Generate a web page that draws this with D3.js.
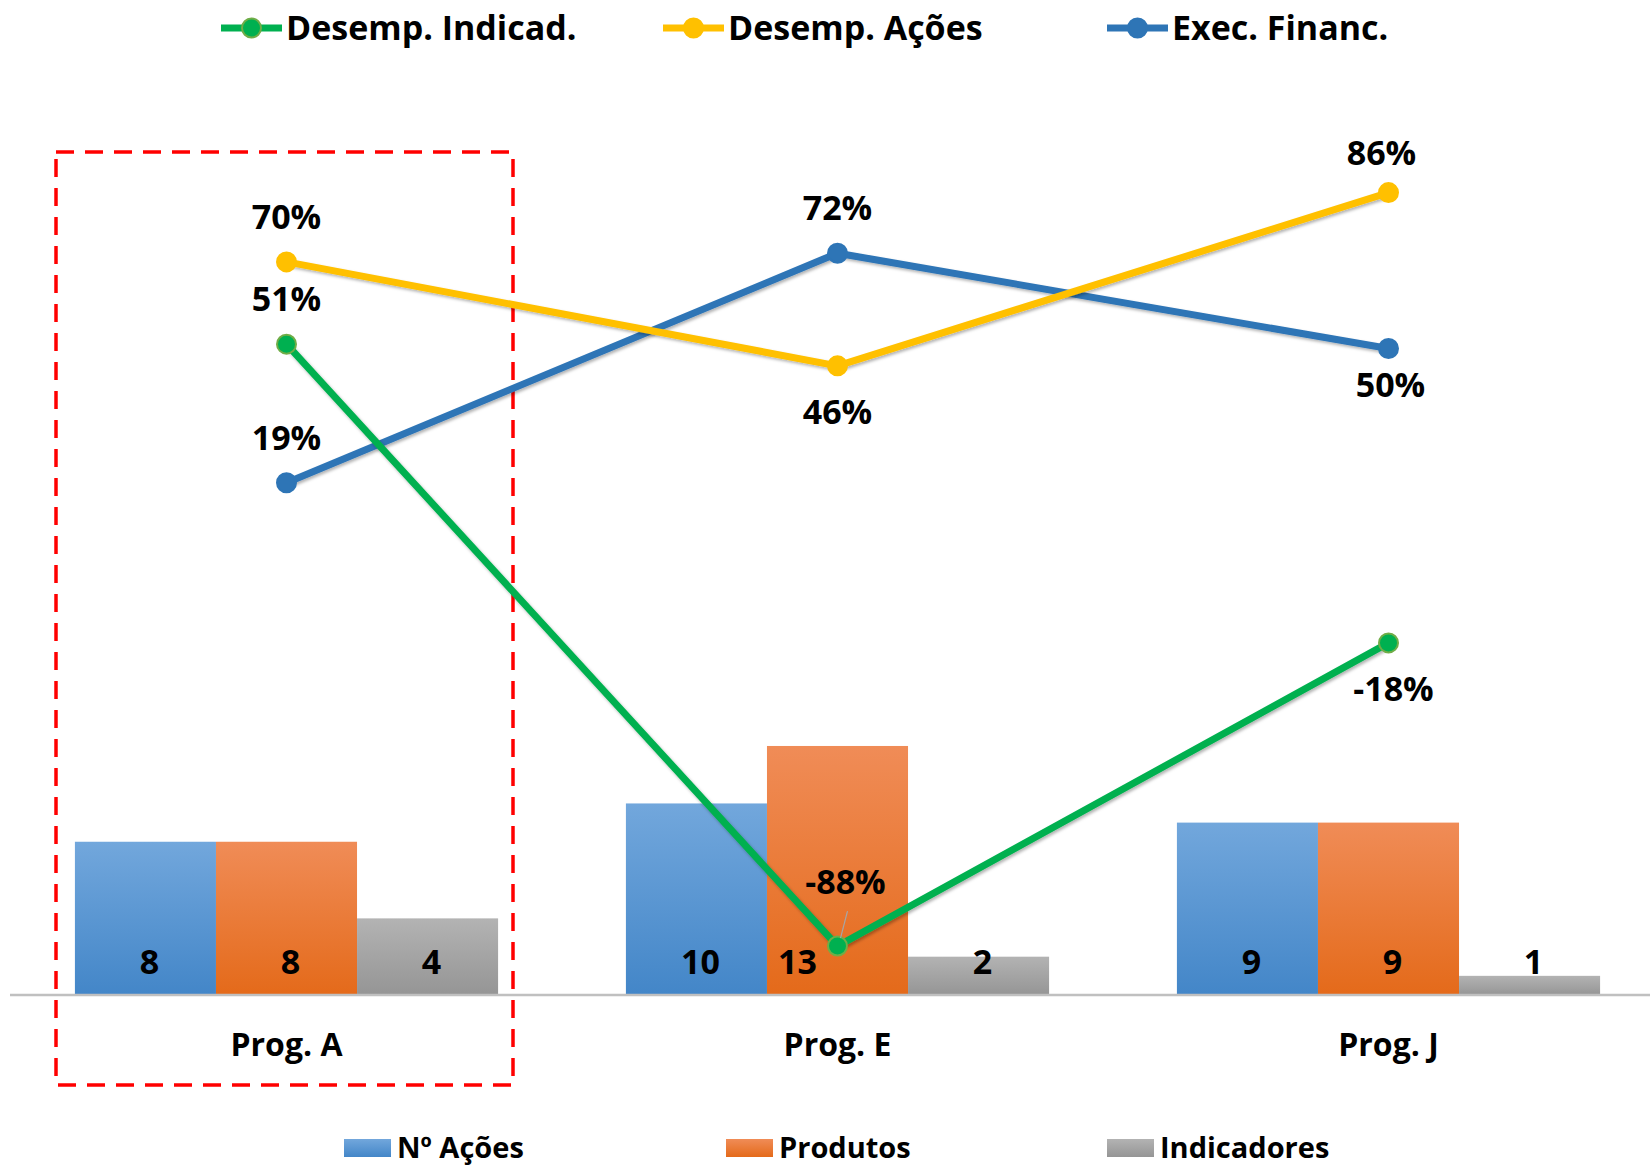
<!DOCTYPE html>
<html>
<head>
<meta charset="utf-8">
<script src="https://cdn.jsdelivr.net/npm/d3@7"></script>
<style>
  body { margin: 0; background: #fff; }
  svg { display: block; font-family: "Open Sans", sans-serif; font-weight: bold; }
</style>
</head>
<body>
<svg id="chart" width="1650" height="1167"></svg>
<script>
// data
var programas = ["Prog. A", "Prog. E", "Prog. J"];
var barKeys = ["Nº Ações", "Produtos", "Indicadores"];
var nAcoes = [8, 10, 9];
var produtos = [8, 13, 9];
var indicadores = [4, 2, 1];

var lineKeys = ["Desemp. Indicad.", "Desemp. Ações", "Exec. Financ."];
var desempIndicad = [0.51, -0.88, -0.18];
var desempAcoes = [0.70, 0.46, 0.86];
var execFinanc = [0.19, 0.72, 0.50];

// label placement (t = above point, b = below point)
var labelPlace = {
  "Desemp. Indicad.": ["t", "t", "b"],
  "Desemp. Ações": ["t", "b", "t"],
  "Exec. Financ.": ["t", "t", "b"]
};

var barColors = {
  "Nº Ações": ["#72a7dc", "#4386c8"],
  "Produtos": ["#f08c57", "#e46a1a"],
  "Indicadores": ["#b3b3b3", "#959595"]
};
var lineColors = {
  "Desemp. Indicad.": "#00b050",
  "Desemp. Ações": "#ffc000",
  "Exec. Financ.": "#2e75b6"
};

var barData = programas.map(function(p, i) {
  return { prog: p, values: [nAcoes[i], produtos[i], indicadores[i]] };
});
var lineData = [
  { key: "Desemp. Indicad.", values: desempIndicad },
  { key: "Desemp. Ações", values: desempAcoes },
  { key: "Exec. Financ.", values: execFinanc }
];

var svg = d3.select("#chart");
var defs = svg.append("defs");

barKeys.forEach(function(k, i) {
  var g = defs.append("linearGradient")
      .attr("id", "grad" + i)
      .attr("x1", 0).attr("y1", 0).attr("x2", 0).attr("y2", 1);
  g.append("stop").attr("offset", "0%").attr("stop-color", barColors[k][0]);
  g.append("stop").attr("offset", "100%").attr("stop-color", barColors[k][1]);
});

var shadow = defs.append("filter").attr("id", "shadow")
    .attr("x", "-10%").attr("y", "-10%").attr("width", "120%").attr("height", "120%");
shadow.append("feDropShadow")
    .attr("dx", 1.5).attr("dy", 2).attr("stdDeviation", 1.5)
    .attr("flood-color", "#000").attr("flood-opacity", 0.3);

// scales
var x0 = d3.scaleBand().domain(programas).range([11, 1664]);
var bw = x0.bandwidth(), gw = bw * 0.768;
var x1 = d3.scaleBand().domain(barKeys).range([(bw - gw) / 2, (bw + gw) / 2]);
var yBar = d3.scaleLinear().domain([0, 45]).range([995, 133]);
var yLine = d3.scaleLinear().domain([-1, 1]).range([998, 132]);

// bars
var groups = svg.append("g").selectAll("g")
  .data(barData)
  .enter().append("g")
    .attr("transform", function(d) { return "translate(" + x0(d.prog) + ",0)"; });

groups.selectAll("rect")
  .data(function(d) { return d.values.map(function(v, i) { return { key: barKeys[i], i: i, v: v }; }); })
  .enter().append("rect")
    .attr("x", function(d) { return x1(d.key); })
    .attr("y", function(d) { return yBar(d.v); })
    .attr("width", x1.bandwidth())
    .attr("height", function(d) { return yBar(0) - yBar(d.v); })
    .attr("fill", function(d) { return "url(#grad" + d.i + ")"; });

groups.selectAll("text")
  .data(function(d) { return d.values.map(function(v, i) { return { key: barKeys[i], v: v, prog: d.prog }; }); })
  .enter().append("text")
    .attr("x", function(d) {
      var dx = (d.prog === "Prog. E" && d.key === "Produtos") ? -40 : 4;
      return x1(d.key) + x1.bandwidth() / 2 + dx;
    })
    .attr("y", yBar(0) - 33)
    .attr("dy", "0.35em")
    .attr("text-anchor", "middle")
    .style("font-size", "34px")
    .attr("fill", "#000")
    .text(function(d) { return d.v; });

// axis
var axis = svg.append("g")
    .attr("transform", "translate(0," + yBar(0) + ")")
    .call(d3.axisBottom(x0).tickSize(0).tickPadding(38));
axis.select(".domain").attr("stroke", "#c0c0c0").attr("stroke-width", 2.5)
    .attr("d", "M10,0H1650");
axis.selectAll("text")
    .style("font-size", "32px")
    .style("font-family", "Open Sans, sans-serif")
    .style("font-weight", "bold")
    .attr("fill", "#000");

// red dashed box
svg.append("rect")
    .attr("x", 56).attr("y", 152)
    .attr("width", 457).attr("height", 933)
    .attr("fill", "none")
    .attr("stroke", "#ff0000")
    .attr("stroke-width", 3.5)
    .attr("stroke-dasharray", "18,11");

// lines
var cx = function(i) { return x0(programas[i]) + bw / 2; };
var line = d3.line()
    .x(function(d, i) { return cx(i); })
    .y(function(d) { return yLine(d); });

var drawOrder = [lineData[2], lineData[1], lineData[0]];

var series = svg.append("g").selectAll("g")
  .data(drawOrder)
  .enter().append("g");

series.append("path")
    .attr("d", function(d) { return line(d.values); })
    .attr("fill", "none")
    .attr("stroke", function(d) { return lineColors[d.key]; })
    .attr("stroke-width", 7)
    .attr("filter", "url(#shadow)");

series.selectAll("circle")
  .data(function(d) { return d.values.map(function(v, i) { return { key: d.key, v: v, i: i }; }); })
  .enter().append("circle")
    .attr("cx", function(d) { return cx(d.i); })
    .attr("cy", function(d) { return yLine(d.v); })
    .attr("r", 9.5)
    .attr("fill", function(d) { return lineColors[d.key]; })
    .attr("stroke", function(d) { return d.key === "Desemp. Indicad." ? "#70ad47" : lineColors[d.key]; })
    .attr("stroke-width", 2);

// leader line for -88%
svg.append("line")
    .attr("x1", cx(1) + 10).attr("y1", yLine(desempIndicad[1]) - 35)
    .attr("x2", cx(1) + 3).attr("y2", yLine(desempIndicad[1]) - 8)
    .attr("stroke", "#a6a6a6").attr("stroke-width", 1.2);

// line labels
var labels = [];
lineData.forEach(function(s) {
  s.values.forEach(function(v, i) {
    var p = labelPlace[s.key][i];
    var dy = p === "t" ? -45 : 46;
    var dx = 0;
    if (s.key === "Desemp. Indicad." && i === 1) { dy = -64; dx = 8; }
    if (s.key === "Desemp. Indicad." && i === 2) { dx = 5; }
    if (s.key === "Desemp. Ações" && i === 2) { dy = -40; dx = -7; }
    if (s.key === "Exec. Financ." && i === 2) { dy = 37; dx = 2; }
    labels.push({ x: cx(i) + dx, y: yLine(v) + dy, v: v });
  });
});

svg.append("g").selectAll("text")
  .data(labels)
  .enter().append("text")
    .attr("x", function(d) { return d.x; })
    .attr("y", function(d) { return d.y; })
    .attr("dy", "0.35em")
    .attr("text-anchor", "middle")
    .style("font-size", "34px")
    .attr("fill", "#000")
    .text(function(d) { return d3.format(".0%")(d.v).replace("−", "-"); });

// top legend
var topLeg = svg.append("g").selectAll("g")
  .data(lineData)
  .enter().append("g")
    .attr("transform", function(d, i) { return "translate(" + [221, 663, 1107][i] + ",28)"; });

topLeg.append("line")
    .attr("x1", 0).attr("x2", 61)
    .attr("stroke", function(d) { return lineColors[d.key]; })
    .attr("stroke-width", 7);
topLeg.append("circle")
    .attr("cx", 30.5).attr("r", 9.5)
    .attr("fill", function(d) { return lineColors[d.key]; })
    .attr("stroke", function(d) { return d.key === "Desemp. Indicad." ? "#70ad47" : lineColors[d.key]; })
    .attr("stroke-width", 2);
topLeg.append("text")
    .attr("x", 65)
    .attr("dy", "0.35em")
    .style("font-size", "34px")
    .attr("fill", "#000")
    .text(function(d) { return d.key; });

// bottom legend
var botLeg = svg.append("g").selectAll("g")
  .data(barKeys)
  .enter().append("g")
    .attr("transform", function(d, i) { return "translate(" + [344, 726, 1107][i] + ",1148)"; });

botLeg.append("rect")
    .attr("y", -9).attr("width", 47).attr("height", 18)
    .attr("fill", function(d, i) { return "url(#grad" + i + ")"; });
botLeg.append("text")
    .attr("x", 53)
    .attr("dy", "0.35em")
    .style("font-size", "29px")
    .attr("fill", "#000")
    .text(function(d) { return d; });
</script>
</body>
</html>
